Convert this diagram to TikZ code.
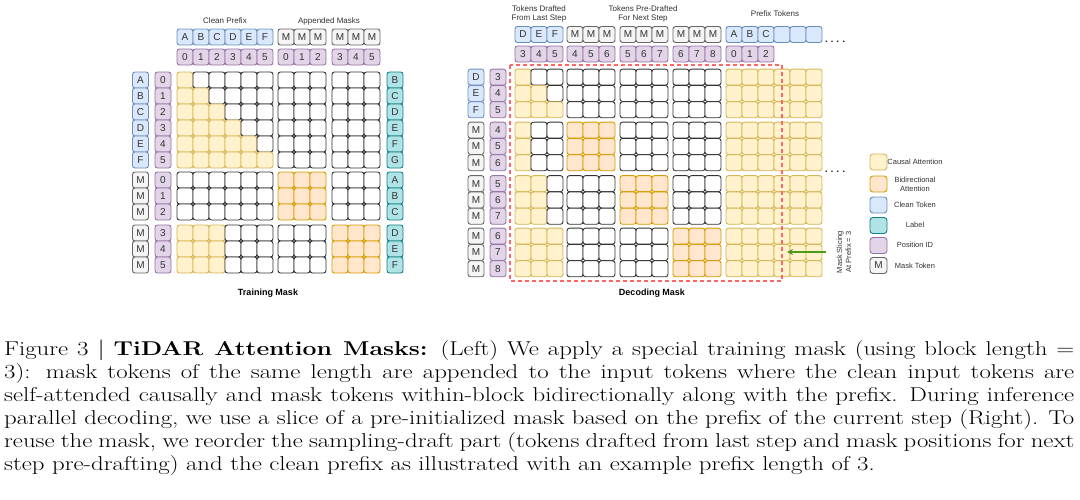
\documentclass[tikz,border=0pt]{standalone}
\usepackage{fontspec}
\usepackage{graphicx}
\usepackage{tikz}
\usetikzlibrary{arrows.meta, positioning, calc}
\newfontfamily\dgfont{Liberation Sans}
\definecolor{causalfill}{HTML}{FFF2CC}
\definecolor{causaldraw}{HTML}{D6B656}
\definecolor{bidirfill}{HTML}{FFE6CC}
\definecolor{bidirdraw}{HTML}{D79B00}
\definecolor{cleanfill}{HTML}{DAE8FC}
\definecolor{cleandraw}{HTML}{6C8EBF}
\definecolor{labelfill}{HTML}{B0E3E6}
\definecolor{labeldraw}{HTML}{0E8088}
\definecolor{posfill}{HTML}{E1D5E7}
\definecolor{posdraw}{HTML}{9673A6}
\definecolor{maskfill}{HTML}{F5F5F5}
\definecolor{maskdraw}{HTML}{666666}
\definecolor{gridline}{HTML}{333333}
\definecolor{slicered}{HTML}{FF6666}
\definecolor{slicegreen}{HTML}{4D9A1A}

\def\rowh{16}
%% block of cells: left, top, rows, cols, last causal column, name
\newcommand{\maskblock}[6]{%
  \foreach \r in {1,...,#3}{%
    \foreach \c in {1,...,#4}{%
      \ifnum\c>#5\relax
        \node[emptycell] (#6-\r-\c) at ({#1+16*\c-8},{#2+\rowh*\r-\rowh/2}) {};
      \else
        \node[causal] (#6-\r-\c) at ({#1+16*\c-8},{#2+\rowh*\r-\rowh/2}) {};
      \fi}}}
%% block of cells in one style: left, top, rows, cols, style, name
\newcommand{\fillblock}[6]{%
  \foreach \r in {1,...,#3}{%
    \foreach \c in {1,...,#4}{%
      \node[#5] (#6-\r-\c) at ({#1+16*\c-8},{#2+\rowh*\r-\rowh/2}) {};}}}

\begin{document}
\begin{tikzpicture}[x=1pt, y=-1pt,
  cell/.style={rectangle, rounded corners=2.5pt, minimum width=16pt,
               minimum height=16pt, inner sep=0pt, line width=0.9pt,
               font=\dgfont\fontsize{10}{12}\selectfont, text=gridline},
  emptycell/.style={cell, draw=gridline, fill=white},
  causal/.style={cell, draw=causaldraw, fill=causalfill},
  bidir/.style={cell, draw=bidirdraw, fill=bidirfill},
  clean/.style={cell, draw=cleandraw, fill=cleanfill},
  lbltok/.style={cell, draw=labeldraw, fill=labelfill},
  posid/.style={cell, draw=posdraw, fill=posfill},
  masktok/.style={cell, draw=maskdraw, fill=maskfill},
  swatch/.style={minimum width=17pt, minimum height=16pt, rounded corners=3pt},
  hdr/.style={font=\dgfont\fontsize{8}{9.5}\selectfont, text=gridline, align=center},
  masktitle/.style={font=\dgfont\bfseries\fontsize{9}{11}\selectfont},
  legtext/.style={font=\dgfont\fontsize{7.5}{9}\selectfont, text=gridline, align=center},
  dots/.style={font=\dgfont\bfseries\fontsize{9}{10}\selectfont},
  slicebox/.style={draw=slicered, line width=1.1pt, dash pattern=on 4pt off 3pt},
  slicearr/.style={draw=slicegreen, line width=1.6pt, -{Stealth[length=6pt,width=6pt]}},
]
\useasboundingbox[fill=white] (0,0) rectangle (1080,499);

%% ---------------- Training mask ----------------
\node[hdr] (cleanhdr) at (225,21) {Clean Prefix};
\node[hdr] (apphdr) at (329,21) {Appended Masks};

%% column tokens and positions
\foreach \t/\p [count=\i] in {A/0,B/1,C/2,D/3,E/4,F/5}{
  \node[clean] (tct-\i) at ({169+16*\i},37) {\t};
  \node[posid] (tcp-\i) at ({169+16*\i},57) {\p};
}
\foreach \x/\p [count=\i] in {286/0,302/1,318/2,340/3,356/4,372/5}{
  \node[masktok] (tcm-\i) at (\x,37) {M};
  \node[posid] (tcq-\i) at (\x,57) {\p};
}

%% row tokens, positions and labels
\foreach \t/\p/\l [count=\i] in {A/0/B,B/1/C,C/2/D,D/3/E,E/4/F,F/5/G}{
  \node[clean] (trt-\i) at (140.5,{64+16*\i}) {\t};
  \node[posid] (trp-\i) at (163,{64+16*\i}) {\p};
  \node[lbltok] (trl-\i) at (395,{64+16*\i}) {\l};
}
\foreach \y/\p/\l [count=\i] in {180/0/A,196/1/B,212/2/C,233/3/D,249/4/E,265/5/F}{
  \node[masktok] (trm-\i) at (140.5,\y) {M};
  \node[posid] (trq-\i) at (163,\y) {\p};
  \node[lbltok] (trk-\i) at (395,\y) {\l};
}

%% attention cells
\maskblock{177}{72}{6}{6}{\r}{ta1}
\fillblock{278}{72}{6}{3}{emptycell}{ta2}
\fillblock{332}{72}{6}{3}{emptycell}{ta3}
\fillblock{177}{172}{3}{6}{emptycell}{tb1}
\fillblock{278}{172}{3}{3}{bidir}{tb2}
\fillblock{332}{172}{3}{3}{emptycell}{tb3}
\maskblock{177}{225}{3}{6}{3}{tc1}
\fillblock{278}{225}{3}{3}{emptycell}{tc2}
\fillblock{332}{225}{3}{3}{bidir}{tc3}

\node[masktitle] (traintitle) at (268,293) {Training Mask};

%% ---------------- Decoding mask ----------------
\node[hdr] (drafthdr) at (539,14) {Tokens Drafted\\From Last Step};
\node[hdr] (prehdr) at (643,14) {Tokens Pre-Drafted\\For Next Step};
\node[hdr] (prefhdr) at (775,14) {Prefix Tokens};

%% column tokens and positions
\foreach \x/\t/\p [count=\i] in {523/D/3,539/E/4,555/F/5,734/A/0,750/B/1,766/C/2}{
  \node[clean] (dct-\i) at (\x,34.5) {\t};
  \node[posid] (dcp-\i) at (\x,54) {\p};
}
\foreach \x/\p [count=\i] in {575/4,591/5,607/6,628/5,644/6,660/7,681/6,697/7,713/8}{
  \node[masktok] (dcm-\i) at (\x,34.5) {M};
  \node[posid] (dcq-\i) at (\x,54) {\p};
}
\foreach \x [count=\i] in {782,798,814}
  \node[clean] (dce-\i) at (\x,34.5) {};
\node[dots] (dotsa) at (835,42) {. . . .};

%% row tokens and positions
\foreach \t/\p [count=\i] in {D/3,E/4,F/5}{
  \node[clean] (drt-\i) at (476,{60.85+16.3*\i}) {\t};
  \node[posid] (drp-\i) at (498,{60.85+16.3*\i}) {\p};
}
\foreach \y/\p [count=\i] in {130.15/4,146.45/5,162.75/6,183.65/5,199.95/6,216.25/7,
                              236.15/6,252.45/7,268.75/8}{
  \node[masktok] (drm-\i) at (476,\y) {M};
  \node[posid] (drq-\i) at (498,\y) {\p};
}

%% attention cells
\def\rowh{16.3}
\maskblock{515}{69}{3}{3}{\r}{da1}
\fillblock{567}{69}{3}{3}{emptycell}{da2}
\fillblock{620}{69}{3}{3}{emptycell}{da3}
\fillblock{673}{69}{3}{3}{emptycell}{da4}
\fillblock{726}{69}{3}{6}{causal}{da5}
\maskblock{515}{122}{3}{3}{1}{db1}
\fillblock{567}{122}{3}{3}{bidir}{db2}
\fillblock{620}{122}{3}{3}{emptycell}{db3}
\fillblock{673}{122}{3}{3}{emptycell}{db4}
\fillblock{726}{122}{3}{6}{causal}{db5}
\maskblock{515}{175.5}{3}{3}{2}{dc1}
\fillblock{567}{175.5}{3}{3}{emptycell}{dc2}
\fillblock{620}{175.5}{3}{3}{bidir}{dc3}
\fillblock{673}{175.5}{3}{3}{emptycell}{dc4}
\fillblock{726}{175.5}{3}{6}{causal}{dc5}
\maskblock{515}{228}{3}{3}{3}{dd1}
\fillblock{567}{228}{3}{3}{emptycell}{dd2}
\fillblock{620}{228}{3}{3}{emptycell}{dd3}
\fillblock{673}{228}{3}{3}{bidir}{dd4}
\fillblock{726}{228}{3}{6}{causal}{dd5}
\node[dots] (dotsb) at (835,172) {. . . .};

%% slice at prefix = 3
\draw[slicebox] (510,65) rectangle (782,281);
\node[hdr, rotate=90, font=\dgfont\fontsize{7.5}{9}\selectfont] (slicetext) at (844,252)
  {Mask Slicing\\At Prefix = 3};
\coordinate (slicefrom) at (826,252);
\coordinate (sliceto) at (787,252);
\draw[slicearr] (slicefrom) -- (sliceto);

\node[masktitle] (dectitle) at (652,293) {Decoding Mask};

%% ---------------- Legend ----------------
\node[causal, swatch] (lgcausal) at (878.5,162) {};
\node[bidir, swatch] (lgbidir) at (878.5,184) {};
\node[clean, swatch] (lgclean) at (878.5,205) {};
\node[lbltok, swatch] (lglabel) at (878.5,225.5) {};
\node[posid, swatch] (lgpos) at (878.5,245.5) {};
\node[masktok, swatch] (lgmask) at (878.5,265.5) {M};
\node[legtext] at (915,162) {Causal Attention};
\node[legtext] at (915,184) {Bidirectional\\Attention};
\node[legtext] at (915,204.5) {Clean Token};
\node[legtext] at (915,225) {Label};
\node[legtext] at (915,245) {Position ID};
\node[legtext] at (915,265.5) {Mask Token};

%% ---------------- Caption ----------------
\node[anchor=north west, inner sep=0pt] (caption) at (4,340) {\scalebox{1.24}[1]{%
  \parbox{863pt}{\fontsize{20}{23}\selectfont\parindent=0pt\emergencystretch=3em
  Figure 3 $|$ \textbf{TiDAR Attention Masks:} (Left) We apply a special training mask (using block length =\linebreak
  3): mask tokens of the same length are appended to the input tokens where the clean input tokens are\linebreak
  self-attended causally and mask tokens within-block bidirectionally along with the prefix. During inference\linebreak
  parallel decoding, we use a slice of a pre-initialized mask based on the prefix of the current step (Right). To\linebreak
  reuse the mask, we reorder the sampling-draft part (tokens drafted from last step and mask positions for next\linebreak
  step pre-drafting) and the clean prefix as illustrated with an example prefix length of 3.}}};
\end{tikzpicture}
\end{document}
